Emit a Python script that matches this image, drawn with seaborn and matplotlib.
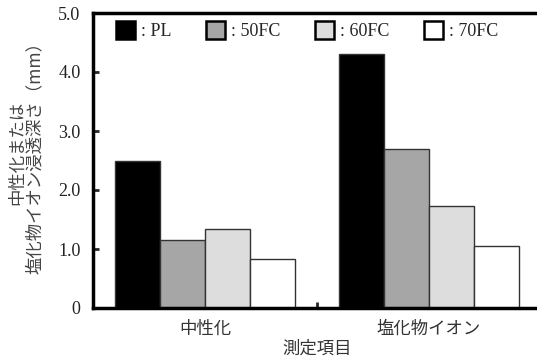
import matplotlib
matplotlib.use("Agg")
import matplotlib.pyplot as plt
import seaborn as sns
import pandas as pd
from matplotlib.patches import Patch

categories = ["中性化", "塩化物イオン"]
series = ["PL", "50FC", "60FC", "70FC"]
pl = [2.49, 4.30]
fc50 = [1.16, 2.70]
fc60 = [1.34, 1.73]
fc70 = [0.83, 1.05]
colors = ["#000000", "#a6a6a6", "#dcdddc", "#ffffff"]
yticks = [0, 1, 2, 3, 4, 5]
yticklabels = ["0", "1.0", "2.0", "3.0", "4.0", "5.0"]

rows = []
for s, vals in zip(series, [pl, fc50, fc60, fc70]):
    for c, v in zip(categories, vals):
        rows.append({"cat": c, "series": s, "val": v})
df = pd.DataFrame(rows)

sns.set_theme(style="white")
plt.rcParams["font.family"] = ["Liberation Serif", "Noto Sans CJK JP"]

fig = plt.figure(figsize=(5.37, 3.6), dpi=100)
ax = fig.add_axes([93 / 537, 1 - 308 / 360, 448 / 537, 295 / 360])

sns.barplot(data=df, x="cat", y="val", hue="series", hue_order=series,
            palette=colors, order=categories, width=0.8, ax=ax,
            edgecolor="#333333", linewidth=1.0, saturation=1, legend=False)

ax.set_xlim(-0.5, 1.5)
ax.set_ylim(0, 5)
ax.set_yticks(yticks)
ax.set_yticklabels(yticklabels, fontsize=13, color="#222222")
ax.set_xticks([0.5])
ax.set_xticklabels([""])
for i, c in enumerate(categories):
    ax.text(i, -0.2, c, ha="center", va="top", fontsize=12.5,
            family=["Noto Sans CJK JP"], color="#333333",
            transform=ax.transData)
ax.tick_params(axis="y", direction="in", length=4, width=2, left=True, pad=9)
ax.tick_params(axis="x", direction="in", length=4, width=2, bottom=True)

for side in ["left", "bottom", "top"]:
    ax.spines[side].set_visible(True)
    ax.spines[side].set_linewidth(2.5)
    ax.spines[side].set_color("black")
ax.spines["right"].set_visible(False)

ax.set_xlabel("測定項目", fontsize=12.5, family=["Noto Sans CJK JP"],
              color="#333333", labelpad=19)
ax.set_ylabel("中性化または\n塩化物イオン浸透深さ（mm）", fontsize=12.5,
              family=["Noto Sans CJK JP", "Liberation Serif"], color="#444444",
              linespacing=1.0)
ax.yaxis.set_label_coords(-0.11, 0.525)

handles = [Patch(facecolor=col, edgecolor="black", linewidth=1.8) for col in colors]
labels = [": " + s for s in series]
ax.legend(handles, labels, ncol=4, loc="upper left",
          bbox_to_anchor=(0.036, 1 - 1 / 295),
          frameon=False, fontsize=13, handlelength=1.05, handleheight=1.15,
          handletextpad=0.3, columnspacing=1.95, borderaxespad=0.0)

fig.savefig("out.png", dpi=100)
